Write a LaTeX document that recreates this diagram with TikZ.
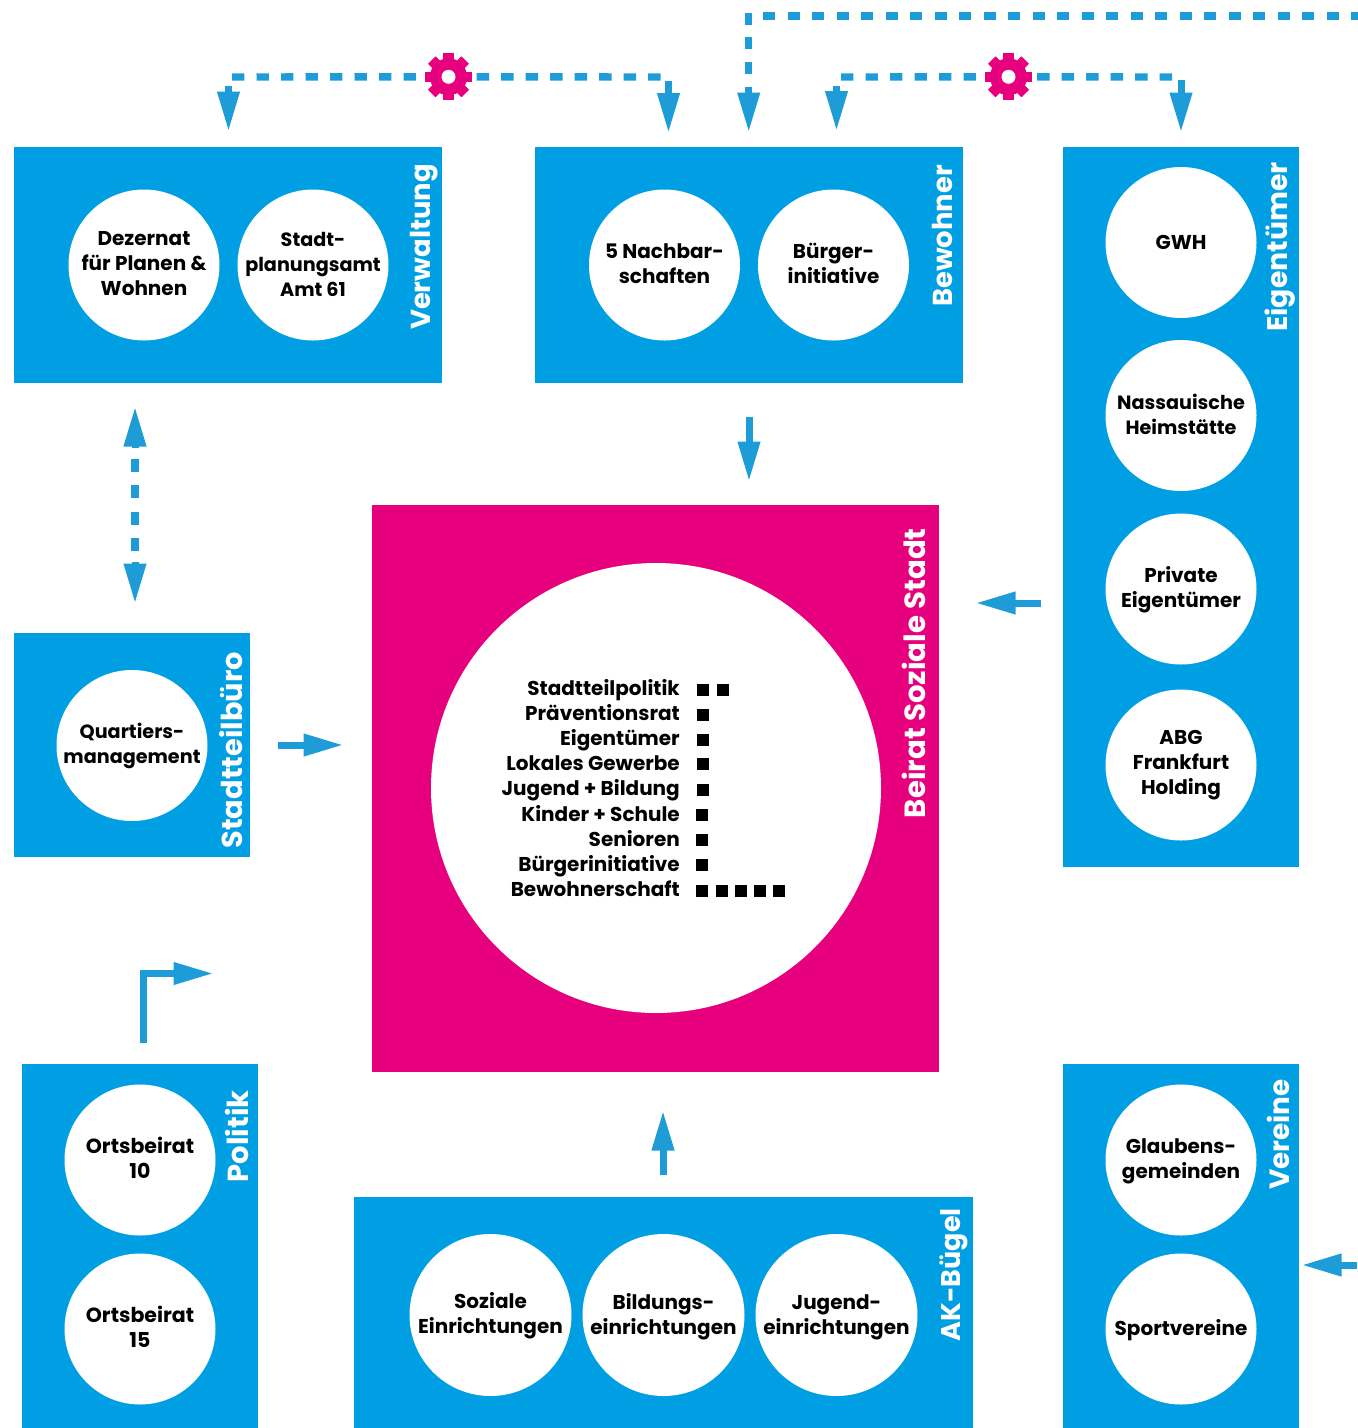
\documentclass[tikz,border=0pt]{standalone}
\usepackage{fontspec}
\setmainfont{Poppins}[UprightFont=* Bold,BoldFont=* Bold]
\usetikzlibrary{arrows.meta}
\definecolor{boxblue}{HTML}{009FE3}
\definecolor{arrowblue}{HTML}{1E9CD7}
\definecolor{mag}{HTML}{E6007E}
\tikzset{
  panel/.style={fill=boxblue,draw=none},
  bigpanel/.style={fill=mag,draw=none},
  disc/.style={circle,fill=white,draw=none,minimum size=151pt,inner sep=-30pt,align=center,font=\fontsize{20}{25}\selectfont,text=black},
  discsmall/.style={disc,font=\fontsize{19.2}{25}\selectfont},
  disclarge/.style={disc,font=\fontsize{20.5}{25}\selectfont},
  widedisc/.style={disc,minimum size=162pt},
  paneltitle/.style={rotate=90,anchor=east,text=white,font=\fontsize{#1}{30}\selectfont,inner sep=0pt},
  rowlabel/.style={anchor=base east,inner sep=0pt,font=\fontsize{20}{25}\selectfont,text=black},
  mark box/.style={fill=black,draw=none,minimum size=12pt,inner sep=0pt},
  tip/.style={-{Triangle[length=40pt,width=21pt]}},
  flow/.style={draw=arrowblue,line width=7pt,tip},
  dashline/.style={draw=arrowblue,line width=7.4pt,dash pattern=on 12.4pt off 12.1pt},
  dashtall/.style={draw=arrowblue,line width=7.4pt,dash pattern=on 13pt off 13.3pt},
  gearnode/.style={circle,minimum size=47pt,inner sep=0pt,draw=none},
}
% text block moved up inside its node by the extra space #1 below it
\newcommand{\txt}[2]{\vbox{\hbox{\begin{tabular}{@{}c@{}}#2\end{tabular}}\kern#1pt}}
\newcommand{\gearat}[1]{%
  \foreach \a in {0,45,...,315}{
    \fill[mag,rotate around={\a:(#1)}] ([xshift=-5.2pt,yshift=-23.5pt]#1) rectangle ([xshift=5.2pt,yshift=23.5pt]#1);
  }
  \fill[mag] (#1) circle (18.5pt);
  \fill[white] (#1) circle (7pt);
}
\begin{document}
\begin{tikzpicture}[x=1pt,y=-1pt]
\useasboundingbox (0,0) rectangle (1358,1428);
% panels
\fill[panel] (14,147) rectangle (442,383);
\fill[panel] (535,147) rectangle (963,383);
\fill[panel] (1063,147) rectangle (1299,867);
\fill[panel] (14,633) rectangle (250,857);
\fill[panel] (22,1064) rectangle (258,1428);
\fill[panel] (354,1197) rectangle (973,1428);
\fill[panel] (1063,1064) rectangle (1299,1428);
\fill[bigpanel] (372,505) rectangle (939,1072);
% titles
\node[paneltitle=27.4] (tVerw) at (424,164) {Verwaltung};
\node[paneltitle=27.4] (tBew) at (942,165) {Bewohner};
\node[paneltitle=28.3] (tEig) at (1280,162) {Eigentümer};
\node[paneltitle=28.8] (tStb) at (231,652) {Stadtteilbüro};
\node[paneltitle=29] (tPol) at (237,1090) {Politik};
\node[paneltitle=27] (tAK) at (954,1208) {AK-Bügel};
\node[paneltitle=27.8] (tVer) at (1278,1079) {Vereine};
\node[paneltitle=29.2] (tBei) at (914,528) {Beirat Soziale Stadt};
% discs
\node[disc] (dez) at (144,265) {\txt{-1}{Dezernat\\für Planen \&\\Wohnen}};
\node[discsmall] (spa) at (313,265) {\txt{-2}{Stadt-\\planungsamt\\Amt 61}};
\node[disc] (nach) at (664.5,265) {\txt{-1}{5 Nachbar-\\schaften}};
\node[disc] (bi) at (833.5,265) {\txt{-1}{Bürger-\\initiative}};
\node[disc] (gwh) at (1181,242.5) {GWH};
\node[discsmall] (nass) at (1181,415.5) {\txt{-2}{Nassauische\\Heimstätte}};
\node[disc] (priv) at (1181,589) {\txt{-2}{Private\\Eigentümer}};
\node[disc] (abg) at (1181,765) {ABG\\Frankfurt\\Holding};
\node[discsmall] (qm) at (132,745.5) {Quartiers-\\management};
\node[disclarge] (ob10) at (140,1160) {\txt{-1}{Ortsbeirat\\10}};
\node[disclarge] (ob15) at (140,1329) {\txt{-2}{Ortsbeirat\\15}};
\node[widedisc] (soz) at (490.5,1315) {\txt{-2}{Soziale\\Einrichtungen}};
\node[widedisc] (bil) at (663.5,1315) {\txt{-4}{Bildungs-\\einrichtungen}};
\node[widedisc] (jug) at (836.5,1315) {\txt{-4}{Jugend-\\einrichtungen}};
\node[disc] (gla) at (1181,1160) {\txt{-2}{Glaubens-\\gemeinden}};
\node[disc] (spo) at (1181,1329) {\txt{-2}{Sportvereine}};
\node[disc,minimum size=450pt] (big) at (656,788) {};
% list
\node[rowlabel] (r1) at (680,695) {Stadtteilpolitik};
\node[rowlabel] (r2) at (680,720) {Präventionsrat};
\node[rowlabel] (r3) at (680,745) {Eigentümer};
\node[rowlabel] (r4) at (680,770) {Lokales Gewerbe};
\node[rowlabel] (r5) at (680,795) {Jugend + Bildung};
\node[rowlabel] (r6) at (680,821) {Kinder + Schule};
\node[rowlabel] (r7) at (680,846) {Senioren};
\node[rowlabel] (r8) at (680,871) {Bürgerinitiative};
\node[rowlabel] (r9) at (680,896) {Bewohnerschaft};
\foreach \n/\x/\y in {a/703/690,b/722.5/690,c/703/715,d/703/739.5,e/703/764,f/702.5/790,g/702/815,h/702/840,i/702/865,j/702/890.5,k/722/890.5,l/741/890.5,m/760/890.5,n/779/890.5}
  \node[mark box] (q\n) at (\x,\y) {};
% gears
\node[gearnode] (g1) at (448.5,76.8) {};
\node[gearnode] (g2) at (1008.5,76.8) {};
% free ends
\coordinate (aL) at (232,77);
\coordinate (aLs) at (228.5,85.5);
\coordinate (aLe) at (228.5,131.5);
\coordinate (aR) at (660.5,77);
\coordinate (aRs) at (668.5,81);
\coordinate (aRe) at (668.5,133);
\coordinate (bL) at (841,77);
\coordinate (bLs) at (836.5,85.5);
\coordinate (bLe) at (836.5,131);
\coordinate (bR) at (1172,77);
\coordinate (bRs) at (1181,80);
\coordinate (bRe) at (1181,132.5);
\coordinate (tE) at (1358,16);
\coordinate (tC) at (763,16);
\coordinate (tV) at (748.7,12.5);
\coordinate (tW) at (748.7,76);
\coordinate (tS) at (748.7,87);
\coordinate (tH) at (748.7,132.5);
% dashed
\draw[dashline] (aL) -- (g1.west);
\draw[dashline] (aR) -- (g1.east);
\draw[dashline] (bL) -- (g2.west);
\draw[dashline] (bR) -- (g2.east);
\gearat{g1}
\gearat{g2}
\draw[flow] (aLs) -- (aLe);
\draw[flow] (aRs) -- (aRe);
\draw[flow] (bLs) -- (bLe);
\draw[flow] (bRs) -- (bRe);
\draw[dashline] (tC) -- (tE);
\draw[dashline] (tV) -- (tW);
\draw[flow] (tS) -- (tH);
% bidirectional
\coordinate (vT) at (135,406.5);
\coordinate (vB) at (135,603.5);
\coordinate (vTi) at (135,448);
\coordinate (vBi) at (135,562);
\coordinate (vD1) at (135,459);
\coordinate (vD2) at (135,552);
\draw[flow] (vTi) -- (vT);
\draw[flow] (vBi) -- (vB);
\draw[dashtall] (vD1) -- (vD2);
% short arrows
\coordinate (s1a) at (749,417); \coordinate (s1b) at (749,481.5);
\coordinate (s2a) at (1041,603); \coordinate (s2b) at (975.5,603);
\coordinate (s3a) at (278,745); \coordinate (s3b) at (343.5,745);
\coordinate (s4a) at (143,1043); \coordinate (s4c) at (143,973.5); \coordinate (s4b) at (213.5,973.5);
\coordinate (s5a) at (663,1175); \coordinate (s5b) at (663,1110.5);
\coordinate (s6a) at (1357,1265); \coordinate (s6b) at (1301.5,1265);
\draw[flow] (s1a) -- (s1b);
\draw[flow] (s2a) -- (s2b);
\draw[flow] (s3a) -- (s3b);
\draw[flow,miter limit=4] (s4a) -- (s4c) -- (s4b);
\draw[flow] (s5a) -- (s5b);
\draw[flow] (s6a) -- (s6b);
\end{tikzpicture}
\end{document}
